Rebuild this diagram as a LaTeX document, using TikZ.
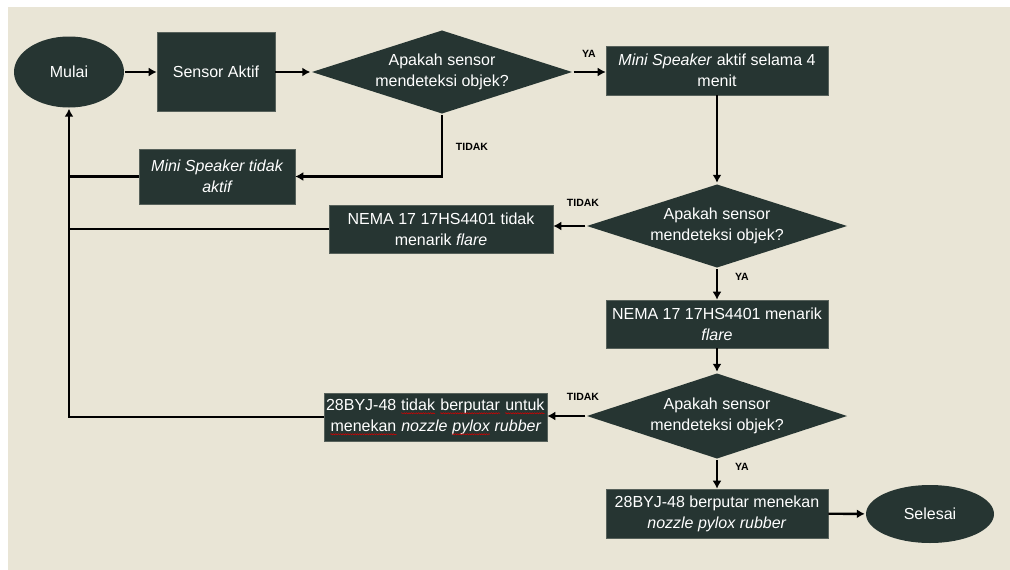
\documentclass[tikz,border=0pt]{standalone}
\usepackage{fontspec}
\setmainfont{Liberation Sans}
\usetikzlibrary{shapes.geometric,arrows.meta,decorations.pathmorphing}
\definecolor{paper}{HTML}{E9E5D6}
\definecolor{boxfill}{HTML}{263532}
\newcommand{\spellwave}[1]{\tikz[baseline=(word.base)]{\node[shape=rectangle, draw=none, fill=none, inner sep=0pt,
        minimum width=0pt, minimum height=0pt] (word) {#1};
    \draw[red!85!black, line width=0.5pt, decorate, decoration={snake, amplitude=0.6pt, segment length=2.4pt}]
        ([yshift=-2.8pt]word.base west) -- ([yshift=-2.8pt]word.base east);}}
\begin{document}
\begin{tikzpicture}[x=1pt, y=-1pt, line width=2.4pt,
    every node/.style={font=\fontsize{16}{21}\selectfont, text=white, align=center},
    terminal/.style={ellipse, fill=boxfill, inner sep=0pt},
    process/.style={rectangle, fill=boxfill, draw=boxfill!75!paper, line width=0.6pt, inner sep=2pt},
    decision/.style={diamond, fill=boxfill, aspect=3.1, inner sep=0pt, minimum width=261pt, minimum height=84pt},
    flow/.style={-{Latex[length=8pt,width=9pt]}},
    answer/.style={text=black, font=\fontsize{10.5}{12}\selectfont\bfseries}]
    \useasboundingbox (0,0) rectangle (1010,570);
    \fill[white] (0,0) rectangle (1010,570);
    \fill[paper] (8,7) rectangle (1010,570);

    \node[terminal, minimum width=110pt, minimum height=71pt] (start) at (69,72) {Mulai};
    \node[process, minimum width=118pt, minimum height=79pt] (sensor) at (216,72) {Sensor Aktif};
    \node[decision] (check-1) at (442,72) {Apakah sensor\\mendeteksi objek?};
    \node[process, minimum width=222pt, minimum height=49pt] (speaker-on) at (717,70.5)
        {\textit{Mini Speaker} aktif selama 4\\menit};
    \node[process, minimum width=156pt, minimum height=55pt] (speaker-off) at (217,176.5)
        {{\itshape Mini Speaker tidak}\\{\itshape aktif}};
    \node[decision] (check-2) at (717,226) {Apakah sensor\\mendeteksi objek?};
    \node[process, minimum width=224pt, minimum height=48pt] (nema-off) at (441,229)
        {NEMA 17 17HS4401 tidak\\menarik \textit{flare}};
    \node[process, minimum width=222pt, minimum height=48pt] (nema-on) at (717,324)
        {NEMA 17 17HS4401 menarik\\\textit{flare}};
    \node[decision, minimum height=86pt] (check-3) at (717,416) {Apakah sensor\\mendeteksi objek?};
    \node[process, minimum width=223pt, minimum height=48pt] (motor-off) at (435.5,417)
        {28BYJ-48 \spellwave{tidak} \spellwave{berputar} \spellwave{untuk}\\\spellwave{menekan} {\itshape nozzle \spellwave{pylox} rubber}};
    \node[process, minimum width=222pt, minimum height=49pt] (motor-on) at (717,513.5)
        {28BYJ-48 berputar menekan\\\textit{nozzle pylox rubber}};
    \node[terminal, minimum width=128pt, minimum height=58pt] (finish) at (930,514) {Selesai};

    \node[answer] (ya-1) at (589,54) {YA};
    \node[answer] (tidak-1) at (472,147) {TIDAK};
    \node[answer] (tidak-2) at (583,203) {TIDAK};
    \node[answer] (ya-2) at (742,277) {YA};
    \node[answer] (tidak-3) at (583,397) {TIDAK};
    \node[answer] (ya-3) at (742,467) {YA};

    \draw[flow] (start) -- (sensor);
    \draw[flow] (sensor) -- (check-1);
    \draw[flow] (check-1.east) -- (check-1.east -| speaker-on.west);
    \draw[flow] (speaker-on) -- (check-2);
    \draw[flow] (check-1.south) |- (speaker-off.east);
    \draw (speaker-off.west) -- (speaker-off.west -| start.south);
    \draw[flow] (check-2.west) -- (check-2.west -| nema-off.east);
    \draw (nema-off.west) -- (nema-off.west -| start.south);
    \draw[flow] (check-2) -- (nema-on);
    \draw[flow] (nema-on) -- (check-3);
    \draw[flow] (check-3.west) -- (check-3.west -| motor-off.east);
    \draw[flow] (motor-off.west) -| (start.south);
    \draw[flow] (check-3) -- (motor-on);
    \draw[flow] (motor-on) -- (finish);
\end{tikzpicture}
\end{document}
